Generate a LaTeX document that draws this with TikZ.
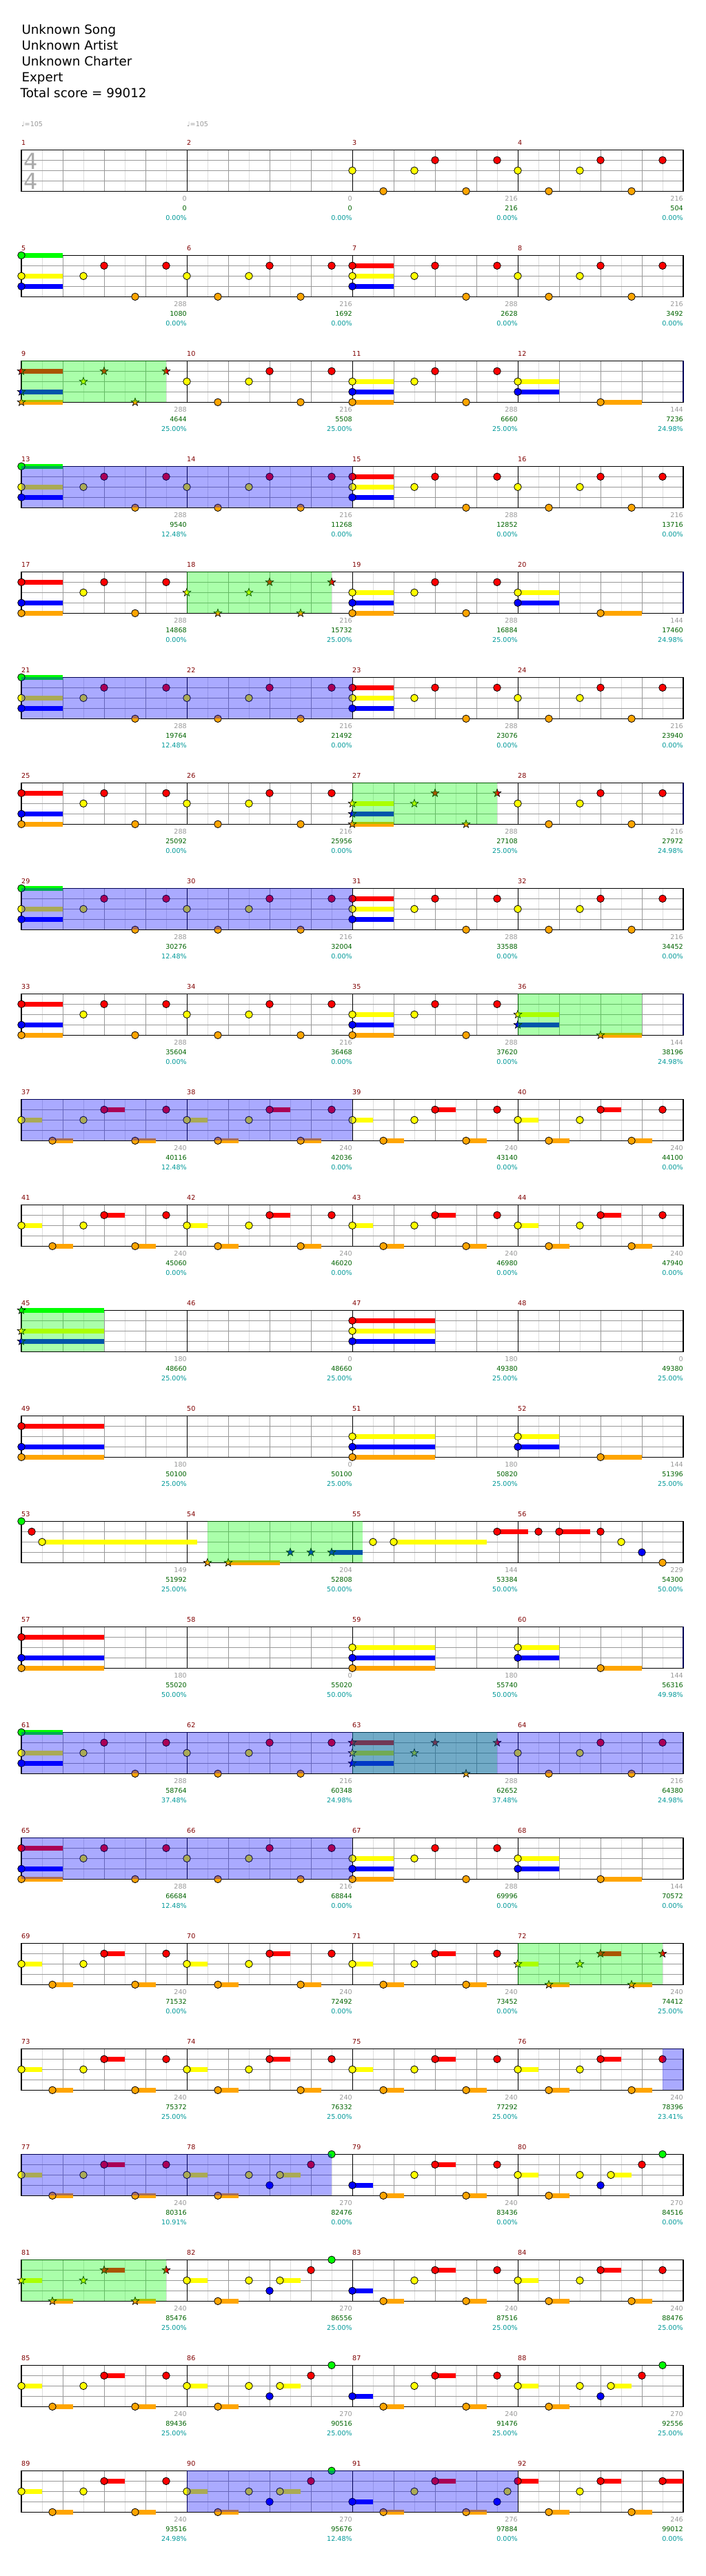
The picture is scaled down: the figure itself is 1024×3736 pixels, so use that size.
\documentclass[tikz,border=0pt]{standalone}
\usepackage{fontspec}
\setmainfont{DejaVu Sans}
\definecolor{lc0}{HTML}{00FF00}
\definecolor{lc1}{HTML}{FF0000}
\definecolor{lc2}{HTML}{FFFF00}
\definecolor{lc3}{HTML}{0000FF}
\definecolor{lc4}{HTML}{FFA500}
\definecolor{mnum}{HTML}{800000}
\definecolor{gnum}{HTML}{999999}
\definecolor{snum}{HTML}{006400}
\definecolor{pnum}{HTML}{009999}
\definecolor{gridA}{HTML}{999999}
\definecolor{gridB}{HTML}{DDDDDD}
\definecolor{tsg}{HTML}{AAAAAA}
\newcommand\smf{\fontsize{9.6}{11}\selectfont}
\newcommand\hdrfont{\fontsize{18.3}{22}\selectfont}
\tikzset{
  lbl/.style={inner sep=0pt,font=\smf},
  hdr/.style={anchor=base west,inner sep=0pt,font=\hdrfont},
  notestyle/.style={draw=black,line width=0.8pt},
}
\newif\ifsp
\newcommand\Sn[2]{\begin{scope}[shift={(#2,#1)}]\filldraw[fill=lc#1,draw=black,line width=0.7pt] (90:6pt) -- (126:2.5pt) -- (162:6pt) -- (198:2.5pt) -- (234:6pt) -- (270:2.5pt) -- (306:6pt) -- (342:2.5pt) -- (18:6pt) -- (54:2.5pt) -- cycle;\end{scope}}
\newcommand\Nt[2]{\ifsp\Sn{#1}{#2}\else\filldraw[notestyle,fill=lc#1] (#2,#1) ellipse [x radius=5.3pt, y radius=5.3pt];\fi}
\newcommand\SU[3]{\fill[lc#1] (#2,#1-0.2333) rectangle (#3,#1+0.2333);}
\newcommand\SP[2]{\fill[lc0,fill opacity=0.3333] (#1,0) rectangle (#2,4);}
\newcommand\BL[2]{\fill[lc3,fill opacity=0.3333] (#1,0) rectangle (#2,4);}
\newcommand\tailp[1]{\Nt{2}{#1+3}\Nt{1}{#1+4}\Nt{4}{#1+5.5}\Nt{1}{#1+7}}
\newcommand\pA[1]{\Nt{2}{#1}\Nt{4}{#1+1.5}\tailp{#1}}
\newcommand\pX[4]{\SU{#2}{#1}{#1+2}\SU{#3}{#1}{#1+2}\SU{#4}{#1}{#1+2}\Nt{#2}{#1}\Nt{#3}{#1}\Nt{#4}{#1}\tailp{#1}}
\newcommand\pL[4]{\SU{#2}{#1}{#1+4}\SU{#3}{#1}{#1+4}\SU{#4}{#1}{#1+4}\Nt{#2}{#1}\Nt{#3}{#1}\Nt{#4}{#1}}
\newcommand\pH[1]{\SU{2}{#1}{#1+2}\SU{3}{#1}{#1+2}\Nt{2}{#1}\Nt{3}{#1}\SU{4}{#1+4}{#1+6}\Nt{4}{#1+4}}
\newcommand\pB[1]{\SU{2}{#1}{#1+1}\SU{4}{#1+1.5}{#1+2.5}\SU{1}{#1+4}{#1+5}\SU{4}{#1+5.5}{#1+6.5}\Nt{2}{#1}\Nt{4}{#1+1.5}\Nt{2}{#1+3}\Nt{1}{#1+4}\Nt{4}{#1+5.5}\Nt{1}{#1+7}}
\newcommand\pC[1]{\SU{2}{#1}{#1+1}\SU{4}{#1+1.5}{#1+2.5}\SU{2}{#1+4.5}{#1+5.5}\Nt{2}{#1}\Nt{4}{#1+1.5}\Nt{2}{#1+3}\Nt{3}{#1+4}\Nt{2}{#1+4.5}\Nt{1}{#1+6}\Nt{0}{#1+7}}
\newcommand\pD[1]{\SU{3}{#1}{#1+1}\SU{4}{#1+1.5}{#1+2.5}\SU{1}{#1+4}{#1+5}\SU{4}{#1+5.5}{#1+6.5}\Nt{3}{#1}\Nt{4}{#1+1.5}\Nt{2}{#1+3}\Nt{1}{#1+4}\Nt{4}{#1+5.5}\Nt{1}{#1+7}}
\newcommand\pE[1]{\SU{3}{#1}{#1+1}\SU{4}{#1+1.5}{#1+2.5}\SU{1}{#1+4}{#1+5}\SU{4}{#1+5.5}{#1+6.5}\Nt{3}{#1}\Nt{4}{#1+1.5}\Nt{2}{#1+3}\Nt{1}{#1+4}\Nt{4}{#1+5.5}\Nt{3}{#1+7}\Nt{2}{#1+7.5}}
\newcommand\pF[1]{\SU{1}{#1}{#1+1}\SU{4}{#1+1.5}{#1+2.5}\SU{1}{#1+4}{#1+5}\SU{4}{#1+5.5}{#1+6.5}\SU{1}{#1+7}{#1+8}\Nt{1}{#1}\Nt{4}{#1+1.5}\Nt{2}{#1+3}\Nt{1}{#1+4}\Nt{4}{#1+5.5}\Nt{1}{#1+7}}
\newcommand\staff{%
  \foreach \i in {1,3,...,31} \draw[gridB,line width=1pt] (\i,0) -- (\i,4);
  \foreach \i in {2,4,6,10,12,14,18,20,22,26,28,30} \draw[gridA,line width=1pt] (\i,0) -- (\i,4);
  \foreach \l in {1,2,3} \draw[gridA,line width=1pt] (0,\l) -- (32,\l);
  \foreach \i in {8,16,24} \draw[black,line width=1pt] (\i,0) -- (\i,4);
  \draw[black,line width=1.2pt] (0,0) rectangle (32,4);}
\newcommand\Lab[5]{%
  \node[lbl,text=mnum,anchor=west,yshift=10.6pt] (mn#2) at ({8*#1-8},0) {#2};
  \node[lbl,text=gnum,anchor=east,yshift=-11pt] (gy#2) at ({8*#1},4) {#3};
  \node[lbl,text=snum,anchor=east,yshift=-25pt] (sc#2) at ({8*#1},4) {#4};
  \node[lbl,text=pnum,anchor=east,yshift=-38.5pt] (pc#2) at ({8*#1},4) {#5\%};}
\newcommand\Row[2]{\begin{scope}[xshift=31pt,yshift={-(217.3+153*(#1-1))*1pt},x=30pt,y=-15pt]\staff #2\end{scope}}
\begin{document}
\begin{tikzpicture}[x=1pt,y=-1pt]
\useasboundingbox (0,0) rectangle (1024,3736);
\fill[white] (0,0) rectangle (1024,3736);
\node[hdr] (song) at (31.3,50) {Unknown Song};
\node[hdr] (artist) at (31.3,73) {Unknown Artist};
\node[hdr] (charter) at (31.3,96) {Unknown Charter};
\node[hdr] (diff) at (31.3,119) {Expert};
\node[hdr] (total) at (29.5,142) {Total score = 99012};
% row 1
\Row{1}{%
  \node[inner sep=0pt,font=\fontsize{32}{32}\selectfont,text=tsg] (ts1) at (0.45,1.08) {4};
  \node[inner sep=0pt,font=\fontsize{32}{32}\selectfont,text=tsg] (ts2) at (0.45,3.05) {4};
  \node[lbl,text=gnum,anchor=west,yshift=37.3pt] (tp1) at (0,0) {♩=105};
  \node[lbl,text=gnum,anchor=west,yshift=37.3pt] (tp2) at (8,0) {♩=105};
  \pA{16}\pA{24}
  \Lab{1}{1}{0}{0}{0.00}\Lab{2}{2}{0}{0}{0.00}\Lab{3}{3}{216}{216}{0.00}\Lab{4}{4}{216}{504}{0.00}}
\Row{2}{\pX{0}{0}{2}{3}\pA{8}\pX{16}{1}{2}{3}\pA{24}
  \Lab{1}{5}{288}{1080}{0.00}\Lab{2}{6}{216}{1692}{0.00}\Lab{3}{7}{288}{2628}{0.00}\Lab{4}{8}{216}{3492}{0.00}}
\Row{3}{\sptrue\pX{0}{1}{3}{4}\spfalse\pA{8}\pX{16}{2}{3}{4}\pH{24}\SP{0}{7}\BL{31.97}{32.03}
  \Lab{1}{9}{288}{4644}{25.00}\Lab{2}{10}{216}{5508}{25.00}\Lab{3}{11}{288}{6660}{25.00}\Lab{4}{12}{144}{7236}{24.98}}
\Row{4}{\pX{0}{0}{2}{3}\pA{8}\pX{16}{1}{2}{3}\pA{24}\BL{0}{16}
  \Lab{1}{13}{288}{9540}{12.48}\Lab{2}{14}{216}{11268}{0.00}\Lab{3}{15}{288}{12852}{0.00}\Lab{4}{16}{216}{13716}{0.00}}
\Row{5}{\pX{0}{1}{3}{4}\sptrue\pA{8}\spfalse\pX{16}{2}{3}{4}\pH{24}\SP{8}{15}\BL{31.97}{32.03}
  \Lab{1}{17}{288}{14868}{0.00}\Lab{2}{18}{216}{15732}{25.00}\Lab{3}{19}{288}{16884}{25.00}\Lab{4}{20}{144}{17460}{24.98}}
\Row{6}{\pX{0}{0}{2}{3}\pA{8}\pX{16}{1}{2}{3}\pA{24}\BL{0}{16}
  \Lab{1}{21}{288}{19764}{12.48}\Lab{2}{22}{216}{21492}{0.00}\Lab{3}{23}{288}{23076}{0.00}\Lab{4}{24}{216}{23940}{0.00}}
\Row{7}{\pX{0}{1}{3}{4}\pA{8}\sptrue\pX{16}{2}{3}{4}\spfalse\pA{24}\SP{16}{23}\BL{31.97}{32.03}
  \Lab{1}{25}{288}{25092}{0.00}\Lab{2}{26}{216}{25956}{0.00}\Lab{3}{27}{288}{27108}{25.00}\Lab{4}{28}{216}{27972}{24.98}}
\Row{8}{\pX{0}{0}{2}{3}\pA{8}\pX{16}{1}{2}{3}\pA{24}\BL{0}{16}
  \Lab{1}{29}{288}{30276}{12.48}\Lab{2}{30}{216}{32004}{0.00}\Lab{3}{31}{288}{33588}{0.00}\Lab{4}{32}{216}{34452}{0.00}}
\Row{9}{\pX{0}{1}{3}{4}\pA{8}\pX{16}{2}{3}{4}\sptrue\pH{24}\spfalse\SP{24}{30}\BL{31.97}{32.03}
  \Lab{1}{33}{288}{35604}{0.00}\Lab{2}{34}{216}{36468}{0.00}\Lab{3}{35}{288}{37620}{0.00}\Lab{4}{36}{144}{38196}{24.98}}
\Row{10}{\pB{0}\pB{8}\pB{16}\pB{24}\BL{0}{16}
  \Lab{1}{37}{240}{40116}{12.48}\Lab{2}{38}{240}{42036}{0.00}\Lab{3}{39}{240}{43140}{0.00}\Lab{4}{40}{240}{44100}{0.00}}
\Row{11}{\pB{0}\pB{8}\pB{16}\pB{24}
  \Lab{1}{41}{240}{45060}{0.00}\Lab{2}{42}{240}{46020}{0.00}\Lab{3}{43}{240}{46980}{0.00}\Lab{4}{44}{240}{47940}{0.00}}
\Row{12}{\sptrue\pL{0}{0}{2}{3}\spfalse\pL{16}{1}{2}{3}\SP{0}{4}
  \Lab{1}{45}{180}{48660}{25.00}\Lab{2}{46}{0}{48660}{25.00}\Lab{3}{47}{180}{49380}{25.00}\Lab{4}{48}{0}{49380}{25.00}}
\Row{13}{\pL{0}{1}{3}{4}\pL{16}{2}{3}{4}\pH{24}
  \Lab{1}{49}{180}{50100}{25.00}\Lab{2}{50}{0}{50100}{25.00}\Lab{3}{51}{180}{50820}{25.00}\Lab{4}{52}{144}{51396}{25.00}}
\Row{14}{\Nt{0}{0}\Nt{1}{0.5}\SU{2}{1}{8.5}\Nt{2}{1}
  \sptrue\Nt{4}{9}\SU{4}{10}{12.5}\Nt{4}{10}\Nt{3}{13}\Nt{3}{14}\SU{3}{15}{16.5}\Nt{3}{15}\spfalse
  \Nt{2}{17}\SU{2}{18}{22.5}\Nt{2}{18}\SU{1}{23}{24.5}\Nt{1}{23}\Nt{1}{25}\SU{1}{26}{27.5}\Nt{1}{26}\Nt{1}{28}\Nt{2}{29}\Nt{3}{30}\Nt{4}{31}
  \SP{9}{16.5}
  \Lab{1}{53}{149}{51992}{25.00}\Lab{2}{54}{204}{52808}{50.00}\Lab{3}{55}{144}{53384}{50.00}\Lab{4}{56}{229}{54300}{50.00}}
\Row{15}{\pL{0}{1}{3}{4}\pL{16}{2}{3}{4}\pH{24}\BL{31.97}{32.03}
  \Lab{1}{57}{180}{55020}{50.00}\Lab{2}{58}{0}{55020}{50.00}\Lab{3}{59}{180}{55740}{50.00}\Lab{4}{60}{144}{56316}{49.98}}
\Row{16}{\pX{0}{0}{2}{3}\pA{8}\sptrue\pX{16}{1}{2}{3}\spfalse\pA{24}\SP{16}{23}\BL{0}{32}
  \Lab{1}{61}{288}{58764}{37.48}\Lab{2}{62}{216}{60348}{24.98}\Lab{3}{63}{288}{62652}{37.48}\Lab{4}{64}{216}{64380}{24.98}}
\Row{17}{\pX{0}{1}{3}{4}\pA{8}\pX{16}{2}{3}{4}\pH{24}\BL{0}{16}
  \Lab{1}{65}{288}{66684}{12.48}\Lab{2}{66}{216}{68844}{0.00}\Lab{3}{67}{288}{69996}{0.00}\Lab{4}{68}{144}{70572}{0.00}}
\Row{18}{\pB{0}\pB{8}\pB{16}\sptrue\pB{24}\spfalse\SP{24}{31}
  \Lab{1}{69}{240}{71532}{0.00}\Lab{2}{70}{240}{72492}{0.00}\Lab{3}{71}{240}{73452}{0.00}\Lab{4}{72}{240}{74412}{25.00}}
\Row{19}{\pB{0}\pB{8}\pB{16}\pB{24}\BL{31}{32}
  \Lab{1}{73}{240}{75372}{25.00}\Lab{2}{74}{240}{76332}{25.00}\Lab{3}{75}{240}{77292}{25.00}\Lab{4}{76}{240}{78396}{23.41}}
\Row{20}{\pB{0}\pC{8}\pD{16}\pC{24}\BL{0}{15}
  \Lab{1}{77}{240}{80316}{10.91}\Lab{2}{78}{270}{82476}{0.00}\Lab{3}{79}{240}{83436}{0.00}\Lab{4}{80}{270}{84516}{0.00}}
\Row{21}{\sptrue\pB{0}\spfalse\pC{8}\pD{16}\pB{24}\SP{0}{7}
  \Lab{1}{81}{240}{85476}{25.00}\Lab{2}{82}{270}{86556}{25.00}\Lab{3}{83}{240}{87516}{25.00}\Lab{4}{84}{240}{88476}{25.00}}
\Row{22}{\pB{0}\pC{8}\pD{16}\pC{24}
  \Lab{1}{85}{240}{89436}{25.00}\Lab{2}{86}{270}{90516}{25.00}\Lab{3}{87}{240}{91476}{25.00}\Lab{4}{88}{270}{92556}{25.00}}
\Row{23}{\pB{0}\pC{8}\pE{16}\pF{24}\BL{8}{24}
  \Lab{1}{89}{240}{93516}{24.98}\Lab{2}{90}{270}{95676}{12.48}\Lab{3}{91}{276}{97884}{0.00}\Lab{4}{92}{246}{99012}{0.00}}
\end{tikzpicture}
\end{document}
